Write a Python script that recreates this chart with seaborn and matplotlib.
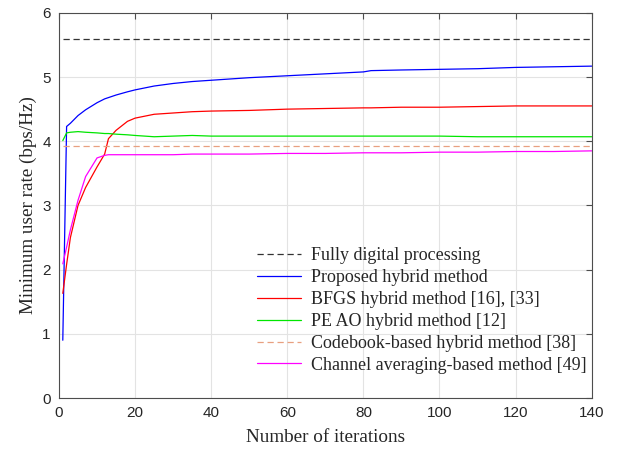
import numpy as np
import pandas as pd
import matplotlib
matplotlib.use("Agg")
import matplotlib.pyplot as plt
import seaborn as sns

# iterations at which values were read
iters = [1, 2, 3, 5, 7, 10, 12, 13, 15, 18, 20, 25, 30, 35, 40, 50, 60, 70, 80, 82, 90, 100, 110, 120, 130, 140]

fully_digital = [5.6] * len(iters)
proposed = [0.9, 4.23, 4.28, 4.40, 4.49, 4.60, 4.66, 4.68, 4.72, 4.77, 4.80, 4.86, 4.90, 4.93,
            4.95, 4.99, 5.02, 5.05, 5.08, 5.10, 5.11, 5.12, 5.13, 5.15, 5.16, 5.17]
bfgs = [1.63, 2.08, 2.50, 3.00, 3.28, 3.60, 3.80, 4.04, 4.17, 4.31, 4.36, 4.42, 4.44, 4.46,
        4.47, 4.48, 4.50, 4.51, 4.52, 4.52, 4.53, 4.53, 4.54, 4.55, 4.55, 4.55]
pe_ao = [4.01, 4.13, 4.14, 4.15, 4.14, 4.13, 4.12, 4.12, 4.11, 4.10, 4.09, 4.07, 4.08, 4.09,
         4.08, 4.08, 4.08, 4.08, 4.08, 4.08, 4.08, 4.08, 4.07, 4.07, 4.07, 4.07]
codebook = [3.93] * len(iters)
chan_avg = [2.09, 2.35, 2.62, 3.08, 3.45, 3.74, 3.78, 3.79, 3.79, 3.79, 3.79, 3.79, 3.79, 3.80,
            3.80, 3.80, 3.81, 3.81, 3.82, 3.82, 3.82, 3.83, 3.83, 3.84, 3.84, 3.85]

labels = ["Fully digital processing", "Proposed hybrid method", "BFGS hybrid method [16], [33]",
          "PE AO hybrid method [12]", "Codebook-based hybrid method [38]",
          "Channel averaging-based method [49]"]
series = [fully_digital, proposed, bfgs, pe_ao, codebook, chan_avg]

df = pd.concat([pd.DataFrame({"iter": iters, "rate": s, "method": lab})
                for s, lab in zip(series, labels)])

colors = ["#333333", "#0000ff", "#ff0000", "#00e600", "#e8a080", "#ff00ff"]
dashes = {lab: (5, 3) if i in (0, 4) else "" for i, lab in enumerate(labels)}

sns.set_style("white")
fig = plt.figure(figsize=(6.19, 4.51), dpi=100)
ax = fig.add_axes([0.0953, 0.1175, 0.8606, 0.854])

sns.lineplot(data=df, x="iter", y="rate", hue="method", style="method",
             palette=dict(zip(labels, colors)), dashes=dashes, linewidth=0.9, ax=ax)

ax.set_xlim(0, 140)
ax.set_ylim(0, 6)
ax.set_xticks(range(0, 141, 20))
ax.set_yticks(range(0, 7))
ax.grid(True, color="#e3e3e3", linewidth=0.8)
for sp in ax.spines.values():
    sp.set_color("#4d4d4d")
    sp.set_linewidth(0.8)
ax.tick_params(direction="in", length=4, color="#4d4d4d", top=True, right=True,
               labelsize=11, pad=6)
for t in ax.get_xticklabels() + ax.get_yticklabels():
    t.set_fontfamily("Liberation Sans")

ax.set_xlabel("Number of iterations", fontfamily="Liberation Serif", fontsize=13.8, labelpad=6)
ax.set_ylabel("Minimum user rate (bps/Hz)", fontfamily="Liberation Serif", fontsize=13.8)

leg = ax.legend(loc="lower right", bbox_to_anchor=(1.015, 0.03), frameon=False,
                prop={"family": "Liberation Serif", "size": 13},
                handlelength=2.4, labelspacing=0.27, borderaxespad=0.3, handletextpad=0.6)

fig.savefig("out.png", dpi=100)
